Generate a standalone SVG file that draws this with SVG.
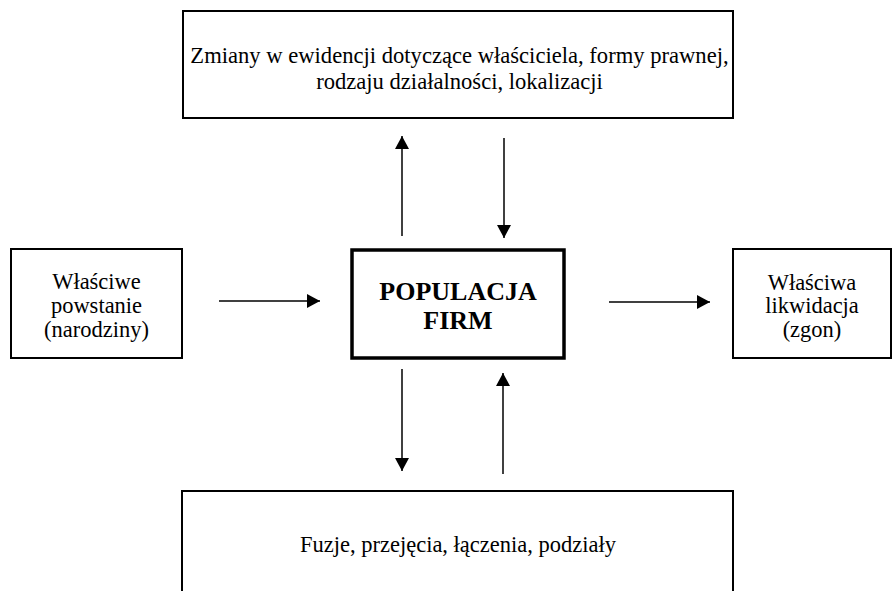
<svg xmlns="http://www.w3.org/2000/svg" width="893" height="591" viewBox="0 0 893 591">
<style>
.box{fill:#fff;stroke:#000;stroke-width:2}
.main{fill:#fff;stroke:#000;stroke-width:3.5}
.t{font-family:'Liberation Serif','Times New Roman','DejaVu Serif',serif;font-size:22.5px;fill:#000;text-anchor:middle}
.tt{font-size:22.6px}
.b{font-family:'Liberation Serif','Times New Roman','DejaVu Serif',serif;font-size:26px;font-weight:bold;fill:#000;text-anchor:middle}
.c{stroke:#000;stroke-width:1.5;fill:none;marker-end:url(#ah)}
</style>
<defs>
<marker id="ah" markerUnits="userSpaceOnUse" markerWidth="14" markerHeight="14" viewBox="0 0 14 14" refX="13" refY="7" orient="auto">
<path d="M0,0 L13,7 L0,14 Z" fill="#000"/>
</marker>
</defs>
<rect width="893" height="591" fill="#fff"/>
<g id="top">
<rect class="box" x="183" y="11" width="550" height="107"/>
<text class="t tt" x="459.5" y="63">Zmiany w ewidencji dotyczące właściciela, formy prawnej,</text>
<text class="t tt" x="459.5" y="89">rodzaju działalności, lokalizacji</text>
</g>
<g id="left">
<rect class="box" x="11" y="249" width="171" height="109"/>
<text class="t" x="96.5" y="289">Właściwe</text>
<text class="t" x="96.5" y="313">powstanie</text>
<text class="t" x="96.5" y="337">(narodziny)</text>
</g>
<g id="center">
<rect class="main" x="352" y="250" width="212" height="108"/>
<text class="b" x="458" y="300">POPULACJA</text>
<text class="b" x="458" y="329">FIRM</text>
</g>
<g id="right">
<rect class="box" x="733" y="249" width="158" height="109"/>
<text class="t" x="812" y="290">Właściwa</text>
<text class="t" x="812" y="313">likwidacja</text>
<text class="t" x="812" y="337">(zgon)</text>
</g>
<g id="bottom">
<rect class="box" x="182" y="491" width="551" height="120"/>
<text class="t" x="458" y="552">Fuzje, przejęcia, łączenia, podziały</text>
</g>
<g id="connectors">
<line class="c" x1="402" y1="236" x2="402" y2="136"/>
<line class="c" x1="504" y1="138" x2="504" y2="238"/>
<line class="c" x1="219" y1="301" x2="320" y2="301"/>
<line class="c" x1="609" y1="302" x2="710" y2="302"/>
<line class="c" x1="402" y1="369" x2="402" y2="471"/>
<line class="c" x1="503" y1="474" x2="503" y2="373"/>
</g>
</svg>
